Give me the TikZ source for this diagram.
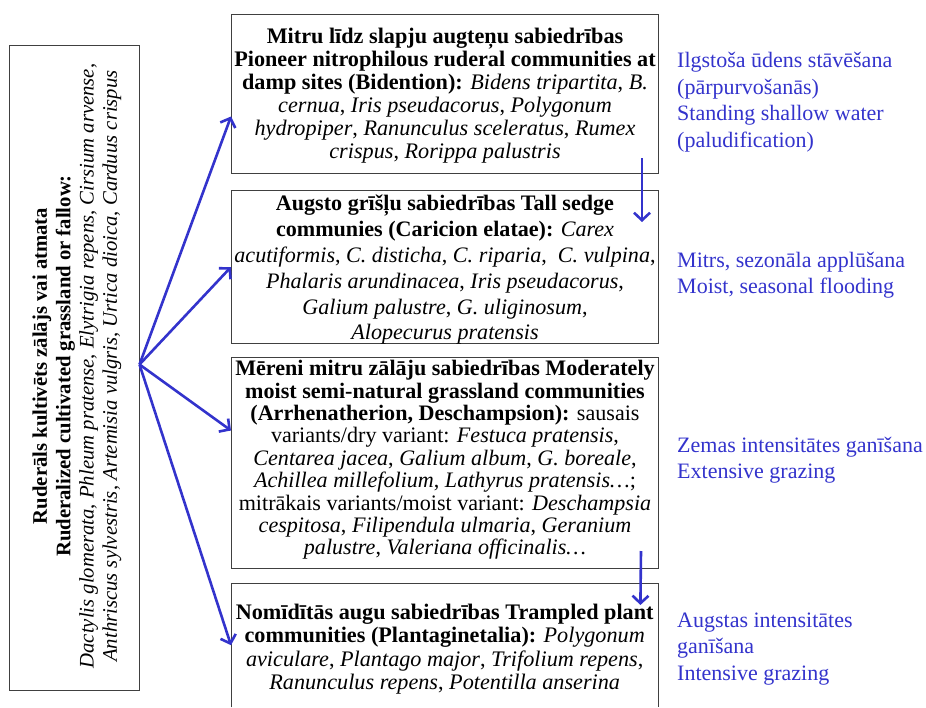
\documentclass[tikz,border=0pt]{standalone}
\usepackage{fontspec}
\setmainfont{Liberation Serif}
\usetikzlibrary{arrows.meta}
\definecolor{flowblue}{RGB}{51,51,204}
\begin{document}
\begin{tikzpicture}[x=1pt,y=-1pt,
  frame/.style={draw=black!75, line width=1pt, inner sep=0pt, anchor=north west, minimum width=427pt},
  boxtext/.style={inner sep=0pt, align=center},
  flow/.style={draw=flowblue, line width=2.6pt, -{Straight Barb[length=7.5pt,width=16pt,line width=2.6pt]}},
  note/.style={text=flowblue, anchor=base west, align=left, inner sep=0pt, font=\fontsize{22}{26.5}\selectfont}
]
\useasboundingbox (0,0) rectangle (926,707);

% source box (rotated)
\node[draw=black!75, line width=1pt, inner sep=0pt, rotate=90,
      minimum width=645pt, minimum height=130pt] (src) at (74,367.5) {};
\node[inner sep=0pt, align=center, rotate=90, font=\fontsize{20.7}{23.3}\selectfont]
  (srctext) at (77,366)
  {\textbf{Ruderāls kultivēts zālājs vai atmata}\\
   \textbf{Ruderalized cultivated grassland or fallow:}\\
   \textit{Dactylis glomerata}, \textit{Phleum pratense}, \textit{Elytrigia repens}, \textit{Cirsium arvense},\\
   \textit{Anthriscus sylvestris}, \textit{Artemisia vulgris}, \textit{Urtica dioica}, \textit{Carduus crispus}};

% box 1
\node[frame, minimum height=159pt] (b1) at (231,14) {};
\node[boxtext, font=\fontsize{22.2}{23}\selectfont] (b1t) at ([yshift=-1.5pt]b1.center)
  {\textbf{Mitru līdz slapju augteņu sabiedrības}\\
   \textbf{Pioneer nitrophilous ruderal communities at}\\
   \textbf{damp sites (Bidention):} \textit{Bidens tripartita}, \textit{B.}\\
   \textit{cernua}, \textit{Iris pseudacorus}, \textit{Polygonum}\\
   \textit{hydropiper}, \textit{Ranunculus sceleratus}, \textit{Rumex}\\
   \textit{crispus}, \textit{Rorippa palustris}};

% box 2
\node[frame, minimum height=153pt] (b2) at (231,190) {};
\node[boxtext, font=\fontsize{22.1}{25.8}\selectfont] (b2t) at ([yshift=-3pt]b2.center)
  {\textbf{Augsto grīšļu sabiedrības Tall sedge}\\
   \textbf{communies (Caricion elatae):} \textit{Carex}\\
   \textit{acutiformis}, \textit{C. disticha}, \textit{C. riparia}, \ \textit{C. vulpina},\\
   \textit{Phalaris arundinacea}, \textit{Iris pseudacorus},\\
   \textit{Galium palustre}, \textit{G. uliginosum},\\
   \textit{Alopecurus pratensis}};

% box 3
\node[frame, minimum height=211pt] (b3) at (231,357) {};
\node[boxtext, font=\fontsize{22.1}{22.4}\selectfont] (b3t) at ([yshift=3pt]b3.center)
  {\textbf{Mēreni mitru zālāju sabiedrības Moderately}\\
   \textbf{moist semi-natural grassland communities}\\
   \textbf{(Arrhenatherion, Deschampsion):} sausais\\
   variants/dry variant: \textit{Festuca pratensis},\\
   \textit{Centarea jacea}, \textit{Galium album}, \textit{G. boreale},\\
   \textit{Achillea millefolium}, \textit{Lathyrus pratensis…};\\
   mitrākais variants/moist variant: \textit{Deschampsia}\\
   \textit{cespitosa}, \textit{Filipendula ulmaria}, \textit{Geranium}\\
   \textit{palustre}, \textit{Valeriana officinalis…}};

% box 4 (open at the bottom edge of the picture)
\node[inner sep=0pt, anchor=north west, minimum width=427pt, minimum height=124pt] (b4) at (231,583) {};
\draw[draw=black!75, line width=1pt] (b4.south west) -- (b4.north west) -- (b4.north east) -- (b4.south east);
\node[boxtext, font=\fontsize{22.2}{23.3}\selectfont] (b4t) at ([yshift=-4pt]b4.center)
  {\textbf{Nomīdītās augu sabiedrības Trampled plant}\\
   \textbf{communities (Plantaginetalia):} \textit{Polygonum}\\
   \textit{aviculare}, \textit{Plantago major}, \textit{Trifolium repens},\\
   \textit{Ranunculus repens}, \textit{Potentilla anserina}};

% fan arrows
\draw[flow] ([yshift=3pt]src.south) -- ([yshift=-22.5pt]b1.west);
\draw[flow] ([yshift=3pt]src.south) -- (b2.west);
\draw[flow] ([yshift=3pt]src.south) -- ([yshift=32.5pt]b3.west);
\draw[flow] ([yshift=3pt]src.south) -- (b4.west);

% vertical arrows
\draw[flow] ([xshift=-17pt,yshift=16pt]b1.south east) -- ([xshift=-17pt,yshift=-32pt]b2.north east);
\draw[flow] ([xshift=-18pt,yshift=18pt]b3.south east) -- ([xshift=-18pt,yshift=-22pt]b4.north east);

% side notes (anchored at the baseline of their last line)
\node[note] (n1) at (677,147) {Ilgstoša ūdens stāvēšana\\(pārpurvošanās)\\Standing shallow water\\(paludification)};
\node[note] (n2) at (677,293.5) {Mitrs, sezonāla applūšana\\Moist, seasonal flooding};
\node[note] (n3) at (677,478.5) {Zemas intensitātes ganīšana\\Extensive grazing};
\node[note] (n4) at (677,680) {Augstas intensitātes\\ganīšana\\Intensive grazing};
\end{tikzpicture}
\end{document}
